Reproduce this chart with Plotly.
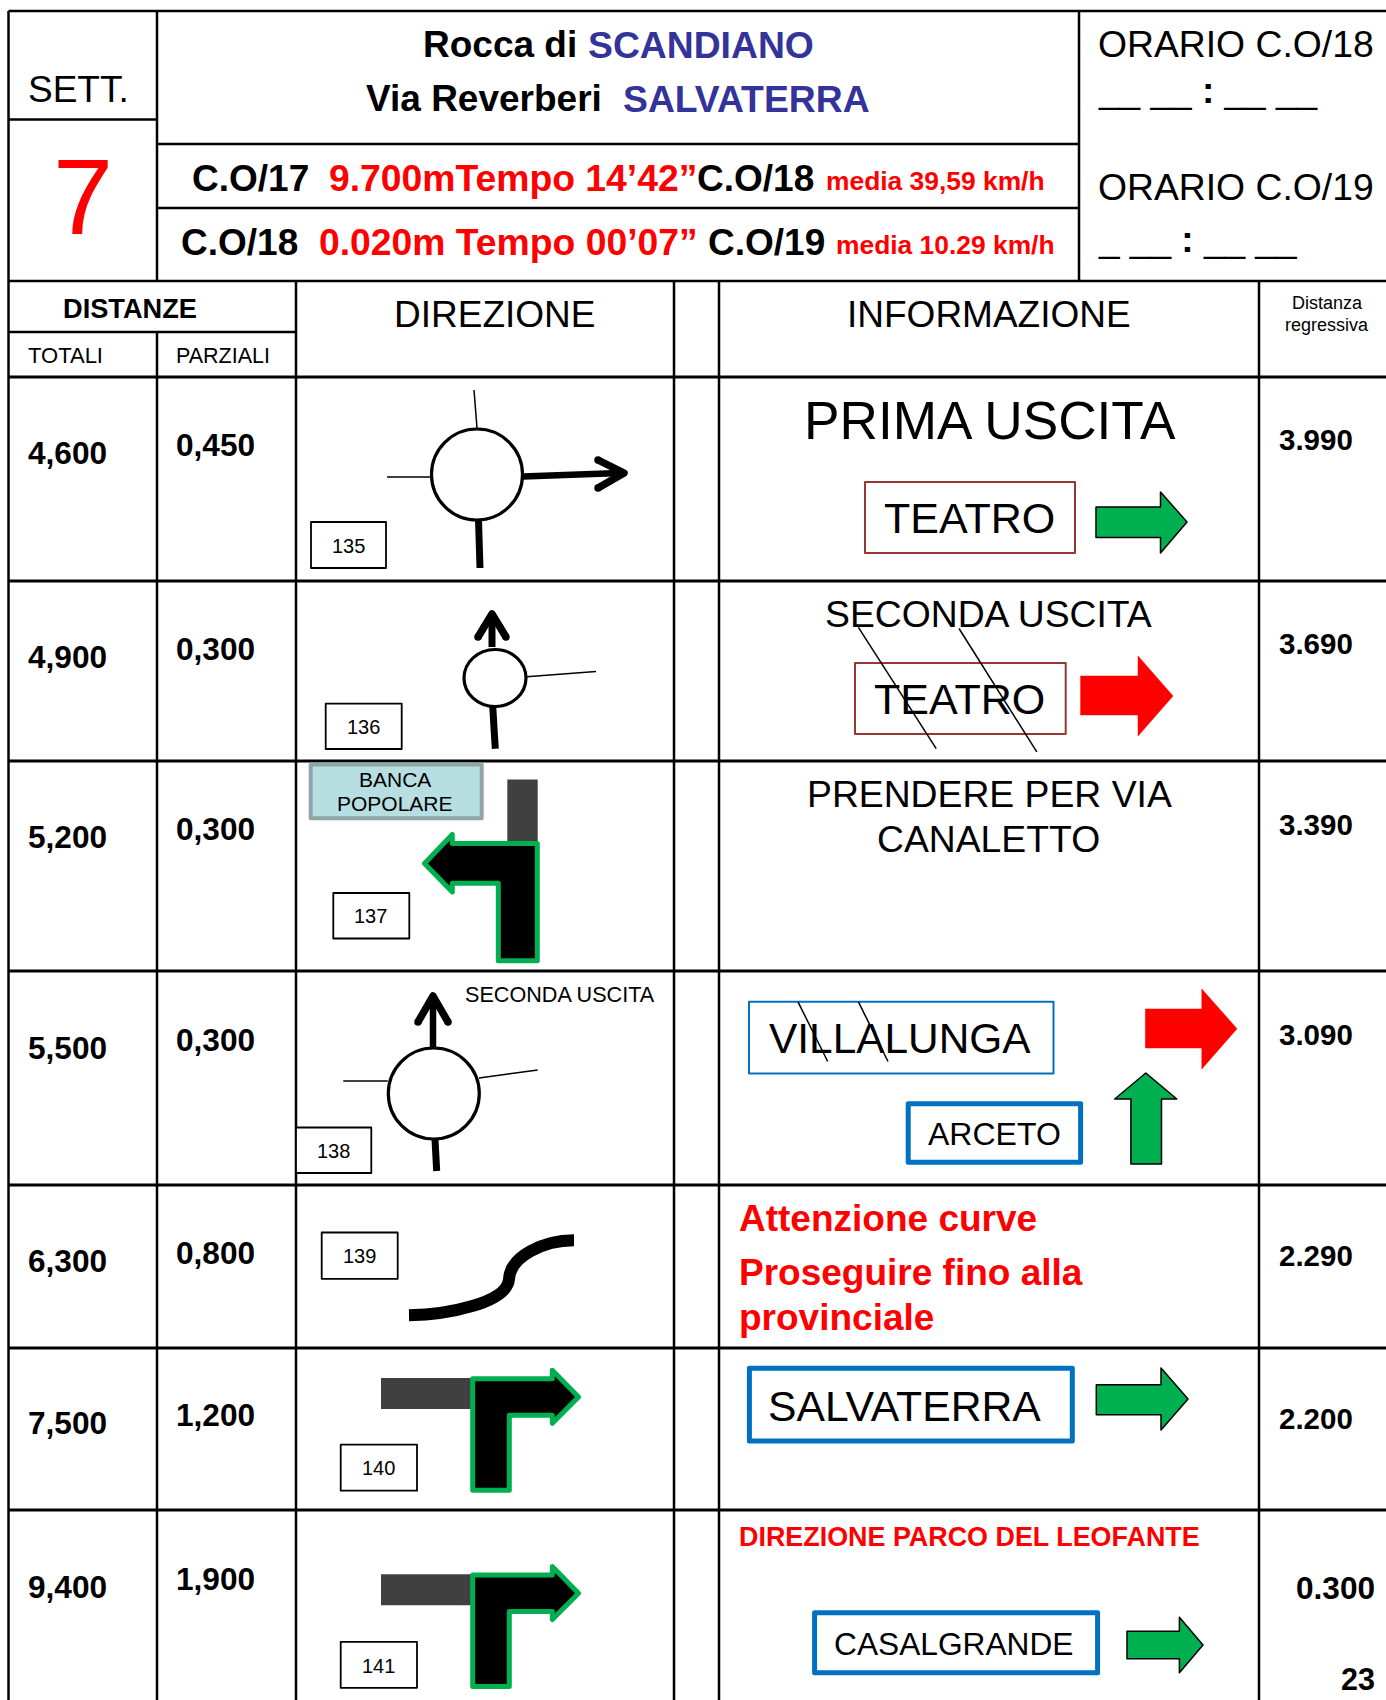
import plotly.graph_objects as go

# ---- chart content -------------------------------------------------
week_label = "SETT."
week_number = "7"
title_black = ["Rocca di", "Via Reverberi"]
title_blue = ["SCANDIANO", "SALVATERRA"]
leg_from = ["C.O/17", "C.O/18"]
leg_detail = ["9.700mTempo 14’42”", "0.020m Tempo 00’07”"]
leg_to = ["C.O/18", "C.O/19"]
leg_speed = ["media 39,59 km/h", "media 10.29 km/h"]
schedule_labels = ["ORARIO C.O/18", "ORARIO C.O/19"]
schedule_blanks = ["__ __ <b>:</b> __ __", "_ __ <b>:</b> __ __"]
column_titles = ["DISTANZE", "TOTALI", "PARZIALI", "DIREZIONE", "INFORMAZIONE"]
regressive_title = ["Distanza", "regressiva"]

totals = ["4,600", "4,900", "5,200", "5,500", "6,300", "7,500", "9,400"]
partials = ["0,450", "0,300", "0,300", "0,300", "0,800", "1,200", "1,900"]
regressive = ["3.990", "3.690", "3.390", "3.090", "2.290", "2.200", "0.300"]
waypoints = ["135", "136", "137", "138", "139", "140", "141"]
page_number = "23"

# ---- layout of the sheet (pixels on hidden axes) ---------------------
W, H = 1386, 1700
BLACK, RED, BLUE = "#000000", "#FF0000", "#333399"
GREEN, SIGN_BLUE, BRICK = "#00B050", "#0070C0", "#953735"
FONT = "Liberation Sans"

shapes, notes = [], []


def line(x0, y0, x1, y1, w=2.5, c=BLACK):
    shapes.append(dict(type="line", x0=x0, y0=y0, x1=x1, y1=y1, line=dict(color=c, width=w)))


def dot(x, y, r, c):
    shapes.append(dict(type="circle", x0=x - r, x1=x + r, y0=y - r, y1=y + r,
                       fillcolor=c, line=dict(width=0)))


def poly(pts, fill=None, c=BLACK, w=1.5, closed=True, caps=False):
    d = "M" + " L".join(f"{x},{y}" for x, y in pts) + (" Z" if closed else "")
    s = dict(type="path", path=d, line=dict(color=c, width=w))
    if fill:
        s["fillcolor"] = fill
    shapes.append(s)
    if caps:
        for x, y in (pts[0], pts[-1]):
            dot(x, y, w / 2, c)


def rect(x0, y0, x1, y1, c=BLACK, w=1.5, fill="#FFFFFF"):
    poly([(x0, y0), (x1, y0), (x1, y1), (x0, y1)], fill=fill, c=c, w=w)


def ellipse(cx, cy, rx, ry, w=3.2):
    shapes.append(dict(type="circle", x0=cx - rx, x1=cx + rx, y0=cy - ry, y1=cy + ry,
                       fillcolor="#FFFFFF", line=dict(color=BLACK, width=w)))


def text(x, y, s, size, c=BLACK, bold=False, anchor="center"):
    if anchor == "left":
        x -= 1.2
    notes.append(dict(x=x, y=y, text=s, showarrow=False, xanchor=anchor, yanchor="middle",
                      borderpad=0, align=anchor,
                      font=dict(family=FONT, size=size, color=c, weight=700 if bold else 400)))


def block_arrow_right(x0, ytop, ybot, xh, ht, hb, xt, yt, fill, outline=True):
    pts = [(x0, ytop), (xh, ytop), (xh, ht), (xt, yt), (xh, hb), (xh, ybot), (x0, ybot)]
    poly(pts, fill=fill, c=BLACK if outline else fill, w=1.5 if outline else 0.5)


def chevron(pts, w=7.5):
    poly(pts, closed=False, w=w, caps=True)


def turn_right_arrow(dy):
    rect(381, 1378 + dy, 471, 1409 + dy, c="#404040", w=0, fill="#404040")
    poly([(x, y + dy) for x, y in [(472.7, 1378.7), (552.3, 1378.7), (552.3, 1370.3), (578.5, 1397),
                                   (552.3, 1423.3), (552.3, 1415.3), (509.3, 1415.3),
                                   (509.3, 1490.3), (472.7, 1490.3)]],
         fill=BLACK, c=GREEN, w=5)


def numbered_box(x0, y0, x1, y1, label):
    rect(x0, y0, x1, y1, w=1.8)
    text((x0 + x1) / 2 - 0.4, (y0 + y1) / 2 + 0.7, label, 20)


# grid
L, R = 8.5, W
V1 = 157
row_edges = [377, 581, 761, 971, 1185, 1348, 1510]
line(L, 11, R, 11)
line(L, 281, R, 281)
for y in row_edges:
    line(L, y, R, y, w=3)
line(L, 119.5, V1, 119.5)
line(V1, 144, 1079, 144)
line(V1, 208, 1079, 208)
line(L, 332, 296, 332)
line(L, 11, L, H)
line(V1, 11, V1, 281)
line(1079, 11, 1079, 281)
line(V1, 332, V1, H)
for x in (296, 674, 719, 1259):
    line(x, 281, x, H)

# header
text(78, 89, week_label, 37)
text(82.5, 196, week_number, 108, RED)
for i, (x0, x1, y) in enumerate([(423, 588, 44.5), (366.5, 623.5, 98.5)]):
    text(x0, y, title_black[i], 37, bold=True, anchor="left")
    text(x1, y, title_blue[i], 37.3, BLUE, bold=True, anchor="left")
for i, (x0, x1, x2, x3, y) in enumerate([(192, 329, 697, 826, 178), (181, 319, 708, 836, 242)]):
    text(x0, y, leg_from[i], 37, bold=True, anchor="left")
    text(x1, y, leg_detail[i], 37.3, RED, bold=True, anchor="left")
    text(x2, y, leg_to[i], 37, bold=True, anchor="left")
    text(x3, y + 3, leg_speed[i], 26.4, RED, bold=True, anchor="left")
for i, (y0, y1) in enumerate([(44, 90), (187, 239)]):
    text(1098, y0, schedule_labels[i], 37.3, anchor="left")
    text(1098, y1, schedule_blanks[i], 37, anchor="left")

text(130, 308, column_titles[0], 27.2, bold=True)
text(28, 355.5, column_titles[1], 22, anchor="left")
text(176, 355.5, column_titles[2], 21.5, anchor="left")
text(494, 314, column_titles[3], 37)
text(989, 314, column_titles[4], 37)
text(1327, 302.5, regressive_title[0], 18)
text(1327, 325, regressive_title[1], 18)

# distance columns
total_y = [453, 657, 837, 1048, 1261, 1423, 1587]
partial_y = [445, 649, 829, 1040, 1253, 1415, 1579]
regressive_y = [439.5, 643, 824, 1034.5, 1255, 1418, 1588]
for i in range(7):
    text(28, total_y[i], totals[i], 31.6, bold=True, anchor="left")
    text(176, partial_y[i], partials[i], 31.6, bold=True, anchor="left")
    last = i == 6
    text(1296 if last else 1279, regressive_y[i], regressive[i], 31.6 if last else 29.5, bold=True, anchor="left")
text(1341, 1679, page_number, 30.5, bold=True, anchor="left")

# row 1 : roundabout, first exit
line(474, 390, 477, 428, w=1.5)
line(387, 477, 431, 477, w=1.5)
line(478.5, 520, 480, 568, w=7)
line(523, 476.5, 620, 473, w=6.5)
chevron([(598, 460), (624, 473), (598, 488)])
ellipse(477, 474.5, 45.5, 45.5)
numbered_box(311, 522, 386, 568, waypoints[0])
text(989.5, 420, "PRIMA USCITA", 53.2)
rect(865, 482, 1075, 553, c=BRICK, w=2)
text(969.5, 518, "TEATRO", 43)
block_arrow_right(1096, 507, 537.5, 1160.5, 492, 553, 1187, 522, GREEN)

# row 2 : roundabout, second exit
line(526.7, 676.8, 596, 671.6, w=1.5)
line(492.7, 706.4, 495.3, 748.7, w=7)
line(492, 647, 492, 620, w=7)
chevron([(478, 637), (492, 614), (506, 637)])
ellipse(495, 678, 31, 28.5)
numbered_box(325.7, 703.6, 401.7, 749, waypoints[1])
text(988.7, 613.5, "SECONDA USCITA", 37.3)
rect(855, 663, 1065.7, 734, c=BRICK, w=2)
text(959.4, 699.3, "TEATRO", 43)
line(858.4, 627.3, 936.2, 748.7, w=1.5)
line(959, 628.5, 1036.8, 751.9, w=1.5)
block_arrow_right(1080.6, 676, 715, 1138, 656, 736, 1173, 696, RED, outline=False)

# row 3 : left turn
rect(310.7, 764.5, 481.7, 818.3, c="#8FA5A8", w=4, fill="#B7DEE1")
text(395.3, 779.6, "BANCA", 21)
text(395.3, 803.5, "POPOLARE", 21)
rect(507.3, 779.6, 537.7, 843, c="#404040", w=0, fill="#404040")
poly([(424.5, 863.4), (452.3, 834.5), (452.3, 843.6), (537.3, 843.6), (537.3, 960.7), (498.3, 960.7),
      (498.3, 883.2), (452.3, 883.2), (452.3, 892)], fill=BLACK, c=GREEN, w=5)
numbered_box(333.3, 893, 409.3, 938.5, waypoints[2])
text(989.5, 794, "PRENDERE PER VIA", 37.3)
text(988.7, 839, "CANALETTO", 37.3)

# row 4 : roundabout, second exit
text(560, 994.7, "SECONDA USCITA", 21.6)
line(433, 1047, 433, 1003, w=6.5)
chevron([(418, 1022), (433, 996), (448, 1022)])
line(343.3, 1081, 387.7, 1081, w=1.5)
line(479, 1078, 537.7, 1070, w=1.5)
line(435, 1139.4, 436.7, 1171, w=7)
ellipse(433.8, 1093.5, 45.5, 45.5)
numbered_box(296, 1127.5, 371.3, 1173, waypoints[3])
rect(749, 1001.8, 1053.5, 1073.4, c=SIGN_BLUE, w=2)
text(900, 1038, "VILLALUNGA", 42.4)
line(798, 1001.8, 827.7, 1061.5, w=1.5)
line(858.4, 1001.8, 888, 1061.5, w=1.5)
block_arrow_right(1145.4, 1009, 1048, 1201.8, 989, 1069, 1237, 1028.7, RED, outline=False)
rect(908.2, 1103.8, 1080.6, 1162.3, c=SIGN_BLUE, w=5)
text(994, 1133.5, "ARCETO", 32)
poly([(1145.8, 1073), (1176.8, 1099), (1161.5, 1099), (1161.5, 1164), (1130.9, 1164), (1130.9, 1099),
      (1114.7, 1099)], fill=GREEN, w=1.5)

# row 5 : bends
numbered_box(321.7, 1232.5, 397.7, 1278.8, waypoints[4])
shapes.append(dict(type="path",
                   path="M409,1315.3 C446.7,1314.7 506.7,1303.3 509,1279.3 C510,1256.7 543.3,1240.3 574,1240.3",
                   line=dict(color=BLACK, width=12)))
text(739.4, 1218, "Attenzione curve", 37, RED, bold=True, anchor="left")
text(739.4, 1272, "Proseguire fino alla", 37, RED, bold=True, anchor="left")
text(739.4, 1317.5, "provinciale", 37, RED, bold=True, anchor="left")

# row 6 : right turn
turn_right_arrow(0)
numbered_box(340.7, 1444.7, 417, 1490.7, waypoints[5])
rect(749.4, 1368.3, 1072.3, 1441, c=SIGN_BLUE, w=5)
text(768.5, 1406, "SALVATERRA", 42.7, anchor="left")
block_arrow_right(1096.3, 1384.7, 1414.7, 1161, 1368, 1430, 1188, 1399, GREEN)

# row 7 : right turn
turn_right_arrow(196.3)
numbered_box(340.7, 1641.8, 417, 1687.8, waypoints[6])
text(739.4, 1536.7, "DIREZIONE PARCO DEL LEOFANTE", 26.9, RED, bold=True, anchor="left")
rect(814.6, 1612.7, 1097.6, 1672.7, c=SIGN_BLUE, w=5)
text(953.7, 1644, "CASALGRANDE", 31.7)
block_arrow_right(1127, 1631.3, 1658.7, 1179.4, 1617.3, 1672.7, 1203, 1645, GREEN)

fig = go.Figure()
fig.update_layout(
    width=W, height=H, margin=dict(l=0, r=0, t=0, b=0), showlegend=False,
    paper_bgcolor="#FFFFFF", plot_bgcolor="#FFFFFF",
    xaxis=dict(range=[0, W], visible=False, fixedrange=True),
    yaxis=dict(range=[H, 0], visible=False, fixedrange=True),
    shapes=shapes, annotations=notes,
)
page_style = ("document.body.style.margin='0';document.body.style.overflow='hidden';"
              "var s=document.createElement('style');"
              "s.textContent='.shapelayer path{stroke-linejoin:round}';document.head.appendChild(s);")
fig.write_html("out.html", config={"displayModeBar": False}, post_script=page_style)
